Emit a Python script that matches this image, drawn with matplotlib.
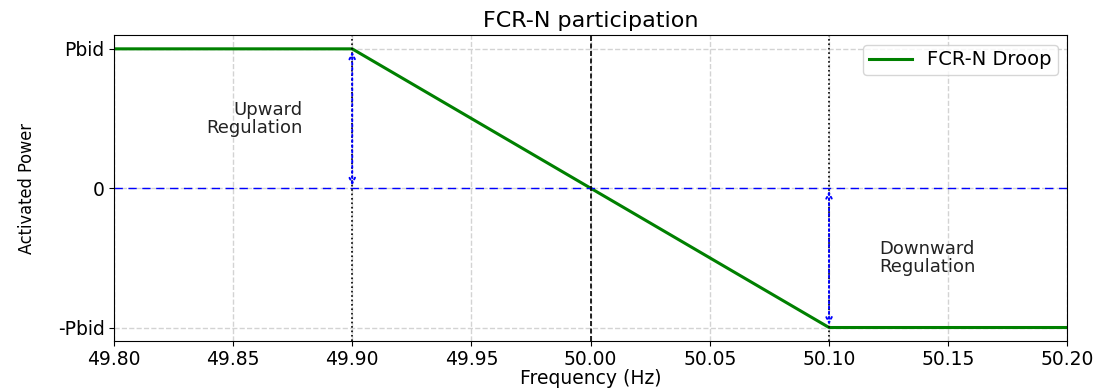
import numpy as np
import matplotlib.pyplot as plt

# droop characteristic (normalised to Pbid)
freq = [49.80, 49.90, 50.00, 50.10, 50.20]
power = [1.0, 1.0, 0.0, -1.0, -1.0]

yticks = [-1, 0, 1]
ylabels = ['-Pbid', '0', 'Pbid']
xticks = [49.80, 49.85, 49.90, 49.95, 50.00, 50.05, 50.10, 50.15, 50.20]

fig, ax = plt.subplots(figsize=(11.05, 3.88), dpi=100)
ax.grid(True, linestyle='--', color='lightgray', linewidth=1)
ax.set_axisbelow(True)

ax.plot(freq, power, color='green', linewidth=2.2, label='FCR-N Droop')
ax.axhline(0, color='blue', linestyle='--', linewidth=1, dashes=(6, 4))
ax.axvline(49.90, color='black', linestyle=':', linewidth=1.2)
ax.axvline(50.10, color='black', linestyle=':', linewidth=1.2)
ax.axvline(50.00, color='black', linestyle='--', linewidth=1.2, dashes=(3, 1.5))

arrow = dict(arrowstyle='<->', color='blue', linestyle=':', linewidth=1.4)
ax.annotate('', xy=(49.90, 1.0), xytext=(49.90, 0.0), arrowprops=arrow)
ax.annotate('', xy=(50.10, -1.0), xytext=(50.10, 0.0), arrowprops=arrow)

ax.text(49.879, 0.5, 'Upward\nRegulation', ha='right', va='center',
        multialignment='right', fontsize=13, color='#222222', linespacing=1.0)
ax.text(50.121, -0.5, 'Downward\nRegulation', ha='left', va='center',
        multialignment='left', fontsize=13, color='#222222', linespacing=1.0)

ax.set_xlim(49.80, 50.20)
ax.set_ylim(-1.1, 1.1)
ax.set_xticks(xticks)
ax.set_xticklabels(['%.2f' % x for x in xticks])
ax.set_yticks(yticks)
ax.set_yticklabels(ylabels)
ax.tick_params(labelsize=13.5, pad=3)

ax.set_title('FCR-N participation', fontsize=16, pad=6)
ax.set_xlabel('Frequency (Hz)', fontsize=13.5, labelpad=0)
ax.set_ylabel('Activated Power', fontsize=13, labelpad=16,
              family=['Liberation Sans Narrow', 'DejaVu Sans'],
              fontstretch='condensed')
ax.legend(loc='upper right', fontsize=14, borderpad=0.3, handlelength=2.2)

plt.subplots_adjust(left=0.103, right=0.966, top=0.91, bottom=0.12)
plt.savefig('out.png')
